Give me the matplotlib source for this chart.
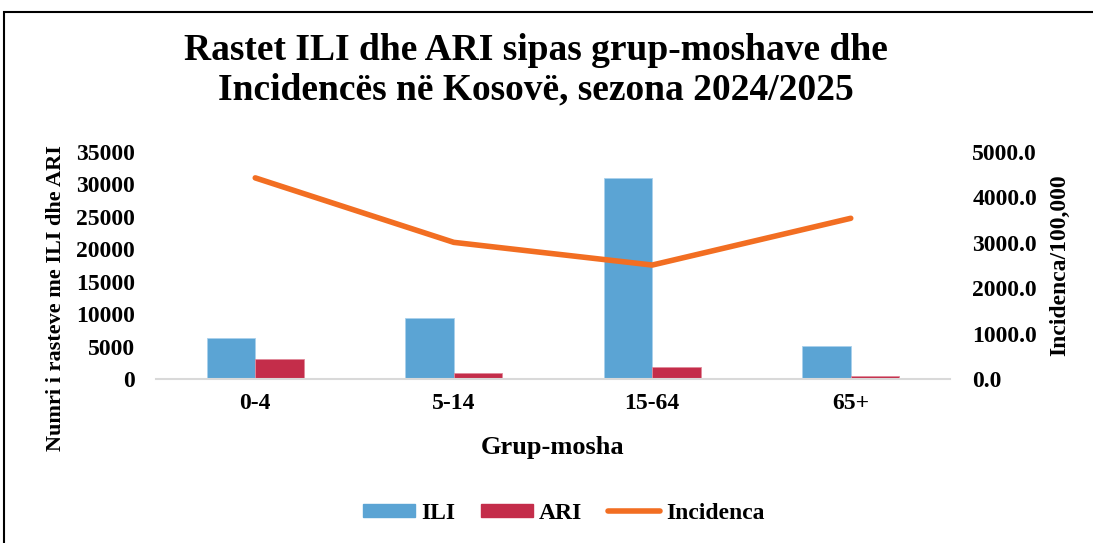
import matplotlib.pyplot as plt
import numpy as np
from matplotlib.patches import Patch, Rectangle
from matplotlib.lines import Line2D

groups = ['0-4', '5-14', '15-64', '65+']
ili = [6300, 9350, 30950, 5050]
ari = [3030, 920, 1800, 500]
incidenca = [4430, 3010, 2510, 3540]

plt.rcParams['font.family'] = ['Liberation Serif', 'DejaVu Serif']
plt.rcParams['font.weight'] = 'bold'

fig = plt.figure(figsize=(10.93, 5.43), dpi=100)
ax = fig.add_axes([156 / 1093, 1 - 379 / 543, (950 - 156) / 1093, (379 - 152) / 543])
ax2 = ax.twinx()

x = np.arange(len(groups))
w = 0.245
ax.bar(x - w / 2, ili, w, color='#5BA4D4', edgecolor='#A9D0EC', linewidth=0.6, zorder=2)
ax.bar(x + w / 2, ari, w, color='#C42D4A', edgecolor='#E08A9A', linewidth=0.6, zorder=2)
ax2.plot(x, incidenca, color='#F26E22', linewidth=4, solid_capstyle='round', solid_joinstyle='round')

ax.set_xlim(-0.5, len(groups) - 0.5)
ax.set_ylim(0, 35000)
ax.set_yticks(np.arange(0, 35001, 5000))
ax2.set_ylim(0, 5000)
ax2.set_yticks(np.arange(0, 5001, 1000))
ax2.set_yticklabels([f'{v:.1f}' for v in np.arange(0, 5001, 1000)])
ax.set_xticks(x)
ax.set_xticklabels(groups)

for a in (ax, ax2):
    for s in a.spines.values():
        s.set_visible(False)
    a.tick_params(length=0, labelsize=17)
ax.spines['bottom'].set_visible(True)
ax.spines['bottom'].set_color('#D9D9D9')
ax.spines['bottom'].set_linewidth(1.5)
ax.tick_params(axis='y', pad=15)
ax.tick_params(axis='x', pad=10)
ax2.tick_params(axis='y', pad=16)

ax.set_xlabel('Grup-mosha', fontsize=19, fontweight='bold', labelpad=16)
ax.set_ylabel('Numri i rasteve me ILI dhe ARI', fontsize=16, fontweight='bold')
ax.yaxis.set_label_coords(-0.113, 0.357)
ax2.set_ylabel('Incidenca/100,000', fontsize=17, fontweight='bold', labelpad=9)

fig.text(0.49, 0.871, 'Rastet ILI dhe ARI sipas grup-moshave dhe\nIncidencës në Kosovë, sezona 2024/2025',
         ha='center', va='center', fontsize=27, fontweight='bold', linespacing=1.18)

handles = [Patch(color='#5BA4D4', label='ILI'),
           Patch(color='#C42D4A', label='ARI'),
           Line2D([0], [0], color='#F26E22', linewidth=4, solid_capstyle='round', label='Incidenca')]
fig.legend(handles=handles, loc='center', bbox_to_anchor=(0.516, 0.055), ncol=3, frameon=False,
           prop={'size': 17, 'weight': 'bold'}, handlelength=2.2, handleheight=0.5, columnspacing=1.1,
           handletextpad=0.25)

fig.patches.append(Rectangle((4 / 1093, -0.05), 1.1, 1.05 - 12 / 543,
                             transform=fig.transFigure, fill=False, edgecolor='black', linewidth=1.5))

fig.savefig('out.png', dpi=100)
